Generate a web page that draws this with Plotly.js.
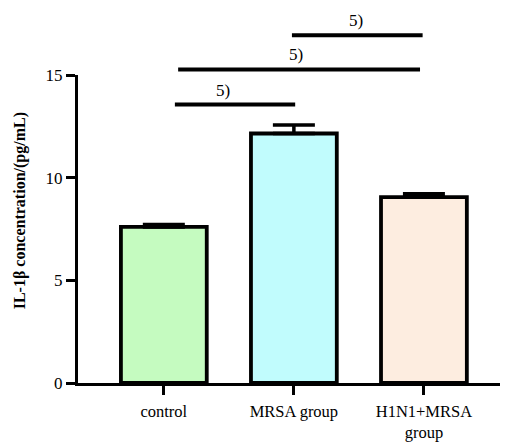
<!DOCTYPE html>
<html>
<head>
<meta charset="utf-8">
<script src="https://cdn.plot.ly/plotly-3.0.1.min.js"></script>
<style>html,body{margin:0;padding:0;background:#fff;}</style>
</head>
<body>
<div id="chart" style="width:506px;height:443px;"></div>
<script>
var categories = ["control", "MRSA group", "H1N1+MRSA<br>group"];
var means = [7.6, 12.15, 9.05];
var errors = [0.12, 0.42, 0.17];
var barColors = ["#c5fbc0", "#c1fcfd", "#fdede0"];
var yTicks = [0, 5, 10, 15];
var yMax = 15;
var yTitle = "IL-1β concentration/(pg/mL)";
// significance brackets: from index, to index, height (data units), label
var sigFrom = [0, 0, 1];
var sigTo = [1, 2, 2];
var sigHeight = [13.56, 15.27, 16.93];
var sigLabel = ["5)", "5)", "5)"];

var startPad = [0.085, 0.11, -0.015];
var endPad = [0.01, -0.03, -0.01];
var labelShift = [-0.09, -0.02, -0.01];

var shapes = [];
var annotations = [];
for (var i = 0; i < sigFrom.length; i++) {
  var xa = sigFrom[i] + startPad[i], xb = sigTo[i] + endPad[i];
  shapes.push({type: "line", xref: "x", yref: "paper",
    x0: xa, x1: xb,
    y0: sigHeight[i] / yMax, y1: sigHeight[i] / yMax,
    line: {color: "#000", width: 4}});
  annotations.push({xref: "x", yref: "paper",
    x: (xa + xb) / 2 + labelShift[i], y: sigHeight[i] / yMax,
    yanchor: "bottom", yshift: 3, showarrow: false, text: sigLabel[i],
    font: {family: "Liberation Serif", size: 17, color: "#000"}});
}
annotations.push({xref: "paper", yref: "paper", x: -0.137, y: 0.558,
  xanchor: "center", yanchor: "middle", textangle: -90, showarrow: false,
  text: "<b>" + yTitle + "</b>",
  font: {family: "Liberation Serif", size: 16, color: "#000"}});

var trace = {
  type: "bar",
  x: [0, 1, 2],
  y: means,
  width: 0.66,
  marker: {color: barColors, line: {color: "#000", width: 3.8}},
  error_y: {type: "data", array: errors, symmetric: false, arrayminus: [0,0,0],
    color: "#000", thickness: 3.5, width: 21},
  hoverinfo: "none"
};

var layout = {
  width: 506, height: 443,
  margin: {l: 78, r: 6, t: 75, b: 60},
  paper_bgcolor: "#fff", plot_bgcolor: "#fff",
  showlegend: false,
  xaxis: {
    range: [-0.66, 2.585],
    tickmode: "array", tickvals: [0, 1, 2], ticktext: categories,
    showline: true, linecolor: "#000", linewidth: 3,
    ticks: "outside", ticklen: 9, tickwidth: 3, tickcolor: "#000",
    ticklabelstandoff: 2,
    showgrid: false, zeroline: false,
    tickfont: {family: "Liberation Serif", size: 16.5, color: "#000"}
  },
  yaxis: {
    range: [0, yMax],
    tickmode: "array", tickvals: yTicks,
    showline: true, linecolor: "#000", linewidth: 3,
    ticks: "outside", ticklen: 9, tickwidth: 3, tickcolor: "#000",
    showgrid: false, zeroline: false,
    tickfont: {family: "Liberation Serif", size: 17, color: "#000"}
  },
  shapes: shapes,
  annotations: annotations
};

Plotly.newPlot("chart", [trace], layout, {staticPlot: true, displayModeBar: false});
</script>
</body>
</html>
